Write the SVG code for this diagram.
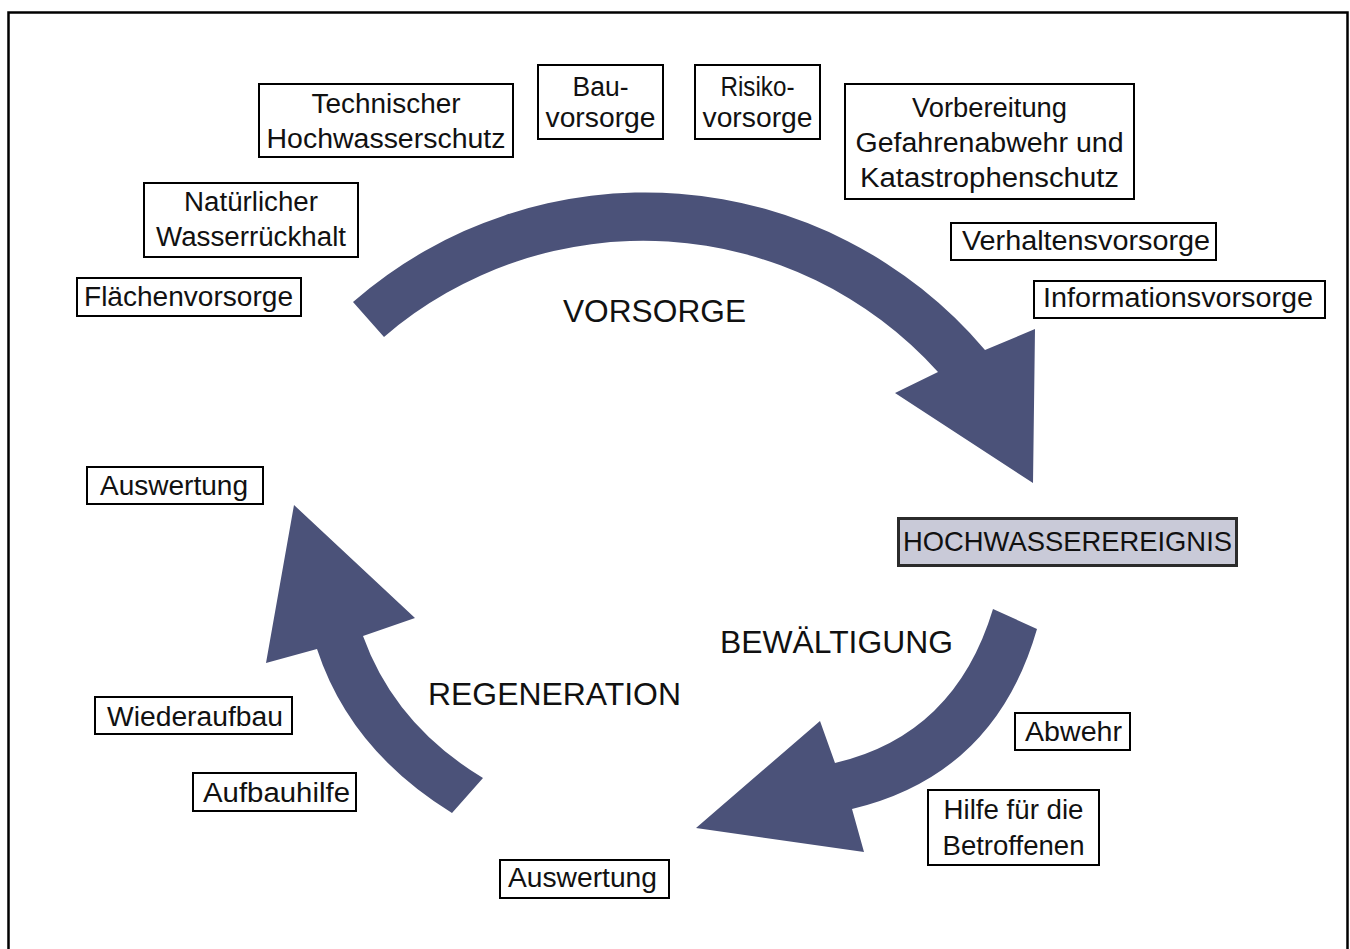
<svg xmlns="http://www.w3.org/2000/svg" width="1350" height="949" viewBox="0 0 1350 949">
<style>
.box{fill:#fff;stroke:#000;stroke-width:2}
.ev{fill:#c9cad8;stroke:#2b2b2b;stroke-width:3}
.t{font-family:"Liberation Sans",Arial,sans-serif;font-size:27px;fill:#111;text-anchor:middle}
.big{font-family:"Liberation Sans",Arial,sans-serif;font-size:32px;fill:#111;text-anchor:middle}
.arr{fill:#4b5279}
</style>
<rect x="8.5" y="12.5" width="1339" height="960" fill="#fff" stroke="#000" stroke-width="2.5"/>

<g id="connectors">
<path id="arrow-vorsorge" class="arr" d="M353,302 A445,445 0 0 1 985,350 L1035,329 L1033,483 L895,393 L938,372 A397,397 0 0 0 384,337 Z"/>
<path id="arrow-bewaeltigung" class="arr" d="M993,609 L1037,629 Q995,775 852,809 L864,852 L696,828 L820,721 L835,763 Q955,735 993,609 Z"/>
<path id="arrow-regeneration" class="arr" d="M452,813 L483,778 Q395,725 363,636 L415,618 L294,505 L266,663 L317,649 Q350,750 452,813 Z"/>
</g>

<g id="label-vorsorge"><text class="big" x="654.5" y="322" textLength="183" lengthAdjust="spacingAndGlyphs">VORSORGE</text></g>
<g id="label-bewaeltigung"><text class="big" x="836.5" y="653" textLength="233" lengthAdjust="spacingAndGlyphs">BEWÄLTIGUNG</text></g>
<g id="label-regeneration"><text class="big" x="554.5" y="705" textLength="253" lengthAdjust="spacingAndGlyphs">REGENERATION</text></g>

<g id="technischer-hochwasserschutz">
<rect class="box" x="259" y="84" width="254" height="73"/>
<text class="t" x="386" y="113" textLength="149" lengthAdjust="spacingAndGlyphs">Technischer</text>
<text class="t" x="386" y="148" textLength="239" lengthAdjust="spacingAndGlyphs">Hochwasserschutz</text>
</g>
<g id="natuerlicher-wasserrueckhalt">
<rect class="box" x="144" y="183" width="214" height="74"/>
<text class="t" x="251" y="211" textLength="134" lengthAdjust="spacingAndGlyphs">Natürlicher</text>
<text class="t" x="251" y="246" textLength="190" lengthAdjust="spacingAndGlyphs">Wasserrückhalt</text>
</g>
<g id="flaechenvorsorge">
<rect class="box" x="77" y="278" width="224" height="38"/>
<text class="t" x="188.5" y="306" textLength="209" lengthAdjust="spacingAndGlyphs">Flächenvorsorge</text>
</g>
<g id="bauvorsorge">
<rect class="box" x="538" y="65" width="125" height="74"/>
<text class="t" x="600.5" y="96" textLength="56" lengthAdjust="spacingAndGlyphs">Bau-</text>
<text class="t" x="600.5" y="127" textLength="110" lengthAdjust="spacingAndGlyphs">vorsorge</text>
</g>
<g id="risikovorsorge">
<rect class="box" x="695" y="65" width="125" height="74"/>
<text class="t" x="757.5" y="96" textLength="74" lengthAdjust="spacingAndGlyphs">Risiko-</text>
<text class="t" x="757.5" y="127" textLength="110" lengthAdjust="spacingAndGlyphs">vorsorge</text>
</g>
<g id="vorbereitung">
<rect class="box" x="845" y="84" width="289" height="115"/>
<text class="t" x="989.5" y="117" textLength="155" lengthAdjust="spacingAndGlyphs">Vorbereitung</text>
<text class="t" x="989.5" y="152" textLength="268" lengthAdjust="spacingAndGlyphs">Gefahrenabwehr und</text>
<text class="t" x="989.5" y="187" textLength="259" lengthAdjust="spacingAndGlyphs">Katastrophenschutz</text>
</g>
<g id="verhaltensvorsorge">
<rect class="box" x="951" y="223" width="265" height="37"/>
<text class="t" x="1086" y="250" textLength="248" lengthAdjust="spacingAndGlyphs">Verhaltensvorsorge</text>
</g>
<g id="informationsvorsorge">
<rect class="box" x="1034" y="281" width="291" height="37"/>
<text class="t" x="1178" y="307" textLength="270" lengthAdjust="spacingAndGlyphs">Informationsvorsorge</text>
</g>
<g id="hochwasserereignis">
<rect class="ev" x="898.5" y="518.5" width="338" height="47"/>
<text class="t" x="1067.5" y="551" style="font-size:28px" textLength="329" lengthAdjust="spacingAndGlyphs">HOCHWASSEREREIGNIS</text>
</g>
<g id="auswertung-oben">
<rect class="box" x="87" y="467" width="176" height="37"/>
<text class="t" x="174" y="495" textLength="148" lengthAdjust="spacingAndGlyphs">Auswertung</text>
</g>
<g id="wiederaufbau">
<rect class="box" x="95" y="697" width="197" height="37"/>
<text class="t" x="195" y="726" textLength="176" lengthAdjust="spacingAndGlyphs">Wiederaufbau</text>
</g>
<g id="aufbauhilfe">
<rect class="box" x="193" y="773" width="163" height="38"/>
<text class="t" x="276.5" y="802" textLength="147" lengthAdjust="spacingAndGlyphs">Aufbauhilfe</text>
</g>
<g id="auswertung-unten">
<rect class="box" x="500" y="860" width="169" height="38"/>
<text class="t" x="582.5" y="887" textLength="149" lengthAdjust="spacingAndGlyphs">Auswertung</text>
</g>
<g id="abwehr">
<rect class="box" x="1015" y="713" width="115" height="37"/>
<text class="t" x="1073.5" y="741" textLength="97" lengthAdjust="spacingAndGlyphs">Abwehr</text>
</g>
<g id="hilfe-betroffene">
<rect class="box" x="928" y="790" width="171" height="75"/>
<text class="t" x="1013.5" y="819" textLength="140" lengthAdjust="spacingAndGlyphs">Hilfe für die</text>
<text class="t" x="1013.5" y="855" textLength="142" lengthAdjust="spacingAndGlyphs">Betroffenen</text>
</g>
</svg>
